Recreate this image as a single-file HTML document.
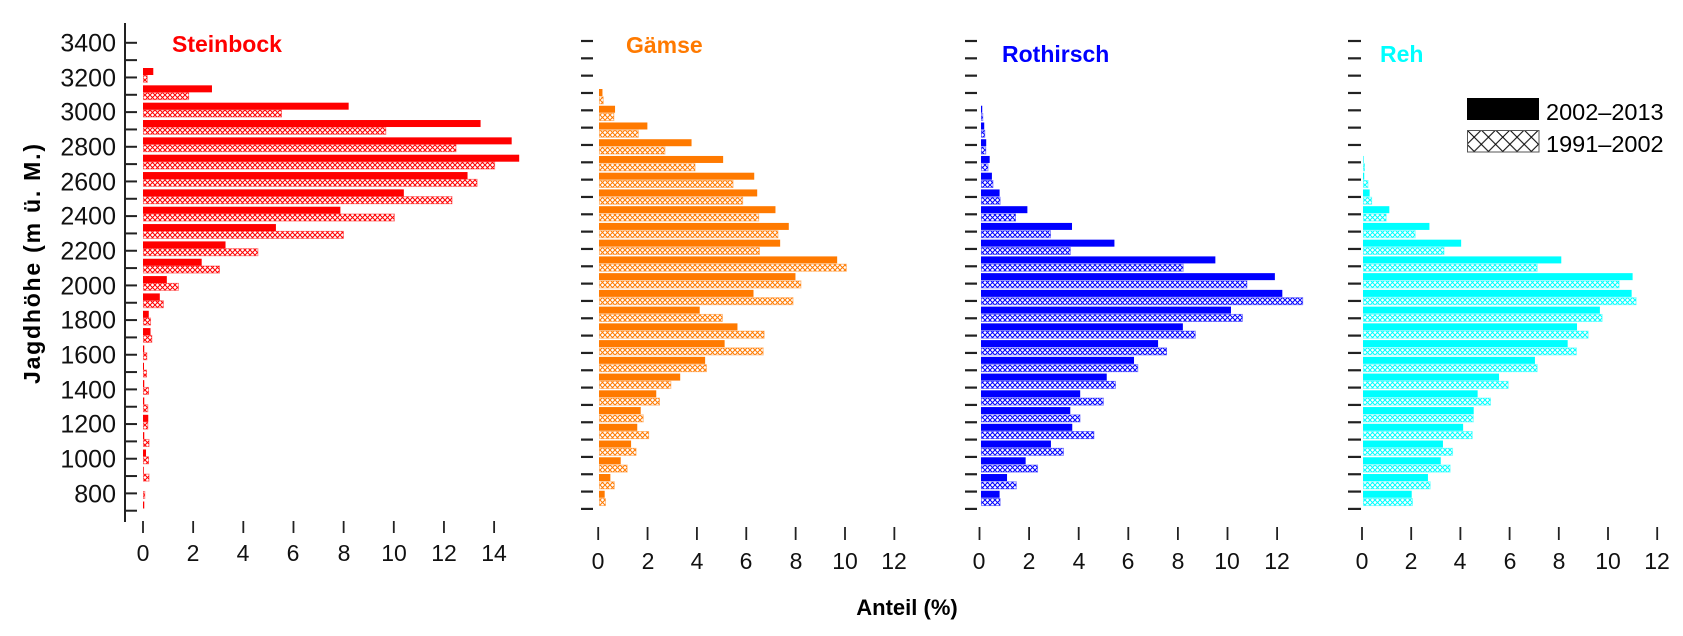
<!DOCTYPE html>
<html><head><meta charset="utf-8"><style>
html,body{margin:0;padding:0;background:#fff;}
svg{display:block;font-family:"Liberation Sans",Arial,sans-serif;}
</style></head><body>
<svg id="s" width="1683" height="636" viewBox="0 0 1683 636" xmlns="http://www.w3.org/2000/svg">
<defs>
<pattern id="hr" patternUnits="userSpaceOnUse" width="5" height="5"><rect width="5" height="5" fill="#fff"/><path d="M0,0L5,5M5,0L0,5" stroke="#ff0000" stroke-width="1"/></pattern>
<pattern id="ho" patternUnits="userSpaceOnUse" width="5" height="5"><rect width="5" height="5" fill="#fff"/><path d="M0,0L5,5M5,0L0,5" stroke="#ff7a00" stroke-width="1"/></pattern>
<pattern id="hb" patternUnits="userSpaceOnUse" width="5" height="5"><rect width="5" height="5" fill="#fff"/><path d="M0,0L5,5M5,0L0,5" stroke="#0000ff" stroke-width="1"/></pattern>
<pattern id="hc" patternUnits="userSpaceOnUse" width="5" height="5"><rect width="5" height="5" fill="#fff"/><path d="M0,0L5,5M5,0L0,5" stroke="#00ffff" stroke-width="1"/></pattern>
<pattern id="hk" patternUnits="userSpaceOnUse" x="1467" y="130" width="14.3" height="14.3"><rect width="14.3" height="14.3" fill="#fff"/><path d="M0,0L14.3,14.3M14.3,0L0,14.3" stroke="#000" stroke-width="1"/></pattern>
</defs>
<g id="g"></g>
<g font-size="25" fill="#111" text-anchor="end">
<text x="116" y="51.5">3400</text><text x="116" y="86.5">3200</text><text x="116" y="120.5">3000</text><text x="116" y="155.5">2800</text><text x="116" y="190.5">2600</text><text x="116" y="224.5">2400</text><text x="116" y="259.5">2200</text><text x="116" y="294.5">2000</text><text x="116" y="328.5">1800</text><text x="116" y="363.5">1600</text><text x="116" y="398.5">1400</text><text x="116" y="432.5">1200</text><text x="116" y="467.5">1000</text><text x="116" y="502.5">800</text>
</g>
<g font-size="23" fill="#111" text-anchor="middle">
<text x="143" y="561">0</text><text x="193" y="561">2</text><text x="243" y="561">4</text><text x="293" y="561">6</text><text x="344" y="561">8</text><text x="394" y="561">10</text><text x="444" y="561">12</text><text x="494" y="561">14</text>
<text x="598" y="569">0</text><text x="648" y="569">2</text><text x="697" y="569">4</text><text x="746" y="569">6</text><text x="796" y="569">8</text><text x="845" y="569">10</text><text x="894" y="569">12</text>
<text x="979" y="569">0</text><text x="1029" y="569">2</text><text x="1079" y="569">4</text><text x="1128" y="569">6</text><text x="1178" y="569">8</text><text x="1227" y="569">10</text><text x="1277" y="569">12</text>
<text x="1362" y="569">0</text><text x="1411" y="569">2</text><text x="1460" y="569">4</text><text x="1510" y="569">6</text><text x="1559" y="569">8</text><text x="1608" y="569">10</text><text x="1657" y="569">12</text>
</g>
<g font-size="23" font-weight="bold">
<text x="172" y="52" fill="#ff0000">Steinbock</text>
<text x="626" y="53" fill="#ff7a00">Gämse</text>
<text x="1002" y="62" fill="#0000ff">Rothirsch</text>
<text x="1380" y="62" fill="#00ffff">Reh</text>
</g>
<text x="907" y="615" font-size="22" font-weight="bold" text-anchor="middle" fill="#000">Anteil (%)</text>
<text transform="translate(40,264) rotate(-90)" font-size="23" font-weight="bold" text-anchor="middle" fill="#000" textLength="240" lengthAdjust="spacing">Jagdhöhe (m ü. M.)</text>
<rect x="1467" y="98" width="72" height="22" fill="#000"/>
<rect x="1467.5" y="130.5" width="71.5" height="21.5" fill="url(#hk)" stroke="#555" stroke-width="1"/>
<text x="1546" y="120" font-size="23.5" fill="#000">2002–2013</text>
<text x="1546" y="152" font-size="23.5" fill="#000">1991–2002</text>
</svg>
<script>
var g=document.getElementById('g'),NS='http://www.w3.org/2000/svg';
function R(x,y,w,h,f,st){var r=document.createElementNS(NS,'rect');r.setAttribute('x',x);r.setAttribute('y',y);r.setAttribute('width',Math.max(w,0.6));r.setAttribute('height',h);r.setAttribute('fill',f);if(st){r.setAttribute('stroke',st);r.setAttribute('stroke-width','1');r.setAttribute('stroke-opacity','0.45');}g.appendChild(r);}
function L(x1,y1,x2,y2,w){var l=document.createElementNS(NS,'line');l.setAttribute('x1',x1);l.setAttribute('y1',y1);l.setAttribute('x2',x2);l.setAttribute('y2',y2);l.setAttribute('stroke','#222');l.setAttribute('stroke-width',w||2);g.appendChild(l);}
L(125,23,125,522,2);
for(var h=3400;h>=700;h-=100){var y=42.8+(3400-h)*0.1733;L(125,y,137,y,2);}
[[581,593],[965,977],[1348,1361]].forEach(function(p){for(var h=3400;h>=700;h-=100){var y=41+(3400-h)*0.1733;L(p[0],y,p[1],y,2.2);}});
[0,2,4,6,8,10,12,14].forEach(function(v){var x=143+v*25.08;L(x,521,x,533,1.8);});
[[598.2,24.68],[979.5,24.8],[1362,24.6]].forEach(function(p){for(var v=0;v<=12;v+=2){var x=p[0]+v*p[1];L(x,527,x,540,1.8);}});
var P=[
 {o:143,u:25.08,top:68,per:17.34,c:'#ff0000',pat:'url(#hr)',hs:[7,7.3],d:[[0.41,0.15],[2.75,1.8],[8.2,5.5],[13.46,9.66],[14.7,12.46],[15.0,14.0],[12.94,13.3],[10.4,12.3],[7.87,10.0],[5.3,7.97],[3.29,4.56],[2.34,3.03],[0.95,1.39],[0.67,0.79],[0.23,0.28],[0.3,0.33],[0.05,0.13],[0.04,0.12],[0.05,0.2],[0.05,0.17],[0.21,0.17],[0.05,0.22],[0.12,0.2],[0.03,0.22],[0,0.05],[0.05,0]]},
 {o:599,u:24.68,top:89,per:16.74,c:'#ff7a00',pat:'url(#ho)',hs:[7,7.8],d:[[0.14,0.15],[0.65,0.58],[1.96,1.57],[3.75,2.65],[5.03,3.87],[6.29,5.41],[6.41,5.8],[7.15,6.45],[7.69,7.23],[7.34,6.48],[9.65,10.0],[7.96,8.16],[6.26,7.84],[4.08,4.98],[5.61,6.67],[5.09,6.63],[4.3,4.33],[3.29,2.89],[2.32,2.43],[1.69,1.77],[1.55,1.99],[1.3,1.48],[0.88,1.12],[0.46,0.6],[0.23,0.24]]},
 {o:981,u:24.8,top:89,per:16.74,c:'#0000ff',pat:'url(#hb)',hs:[7,7.8],d:[[0,0],[0.05,0.05],[0.13,0.13],[0.21,0.17],[0.35,0.26],[0.44,0.46],[0.75,0.75],[1.87,1.37],[3.67,2.78],[5.38,3.58],[9.45,8.13],[11.85,10.7],[12.15,12.95],[10.08,10.52],[8.14,8.62],[7.14,7.46],[6.17,6.3],[5.07,5.4],[4.0,4.91],[3.6,3.97],[3.68,4.53],[2.82,3.3],[1.8,2.26],[1.05,1.4],[0.75,0.75]]},
 {o:1363,u:24.6,top:89,per:16.74,c:'#00ffff',pat:'url(#hc)',hs:[7,7.8],d:[[0,0],[0,0],[0,0],[0,0],[0.02,0.04],[0.05,0.18],[0.27,0.33],[1.07,0.92],[2.7,2.1],[3.99,3.27],[8.06,7.06],[10.96,10.39],[10.92,11.08],[9.63,9.7],[8.7,9.13],[8.32,8.65],[6.99,7.06],[5.53,5.88],[4.66,5.16],[4.5,4.46],[4.07,4.42],[3.25,3.62],[3.16,3.52],[2.64,2.71],[1.98,1.99]]}
];
P.forEach(function(p){p.d.forEach(function(v,i){var y=p.top+i*p.per;
 if(v[0]>0)R(p.o,y,v[0]*p.u,p.hs[0],p.c);
 if(v[1]>0)R(p.o+0.5,y+p.hs[1],v[1]*p.u,p.hs[0],p.pat,p.c);});});
</script>
</body></html>
